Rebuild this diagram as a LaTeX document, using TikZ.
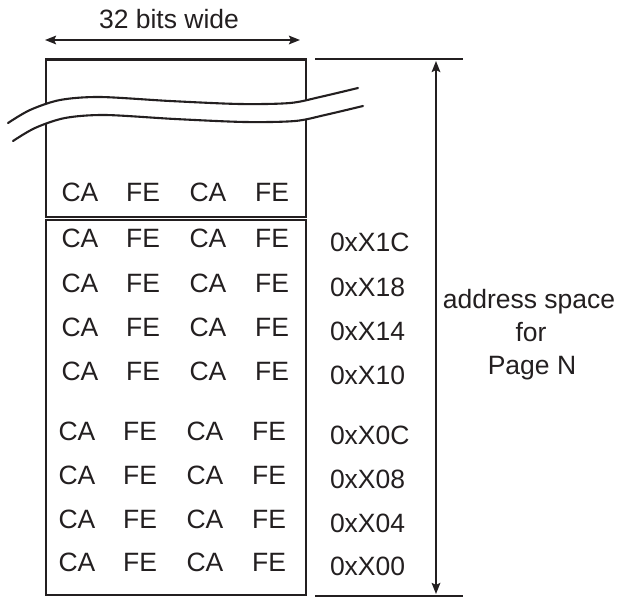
\documentclass[tikz,border=0pt]{standalone}
\usepackage{fontspec}
\setmainfont{Liberation Sans}
\usetikzlibrary{arrows.meta}
\definecolor{ink}{HTML}{231F20}
\begin{document}
\begin{tikzpicture}[x=1pt,y=-1pt,
  every node/.style={inner sep=0pt,outer sep=0pt,text=ink,font=\fontsize{26.5}{31}\selectfont},
  byte/.style={anchor=base},
  hex/.style={anchor=base west},
  frame/.style={draw=ink,line width=2.1pt},
  wave/.style={draw=ink,line width=2.1pt,line cap=round},
  dim/.style={draw=ink,line width=2.4pt,{Stealth[length=11pt,width=8.5pt,inset=2pt]}-{Stealth[length=11pt,width=8.5pt,inset=2pt]}},
  ext/.style={draw=ink,line width=2.2pt}]
\useasboundingbox (0,0) rectangle (618,597);
% coordinates
\coordinate (ul) at (46,59.5);
\coordinate (ur) at (306,217);
\coordinate (ll) at (46,220);
\coordinate (lr) at (306,595);
\coordinate (wl) at (45,40);
\coordinate (wr) at (300,40);
\coordinate (tl) at (315,59);
\coordinate (tr) at (463,59);
\coordinate (bl) at (315,596);
\coordinate (br) at (463,596);
\coordinate (at) at (436,61);
\coordinate (ab) at (436,594);
% width arrow
\node[byte] (wtxt) at (169,28) {32 bits wide};
\draw[dim] (wl) -- (wr);
% boxes
\draw[frame] (ul) rectangle (ur);
\draw[frame] (ll) rectangle (lr);
% break in the upper box
\fill[white] plot[smooth] coordinates {(8,123) (30,110) (60,100) (100,97) (170,101) (240,104) (290,103) (320,97) (358,88)}
  -- plot[smooth] coordinates {(363,106) (325,115) (295,121) (245,122) (175,119) (105,115) (65,118) (35,128) (13,141)} -- cycle;
\draw[wave] plot[smooth] coordinates {(8,123) (30,110) (60,100) (100,97) (170,101) (240,104) (290,103) (320,97) (358,88)};
\draw[wave] plot[smooth] coordinates {(13,141) (35,128) (65,118) (105,115) (175,119) (245,122) (295,121) (325,115) (363,106)};
% top row in upper box
\node[byte] (t1) at (80,201) {CA};
\node[byte] (t2) at (143,201) {FE};
\node[byte] (t3) at (208,201) {CA};
\node[byte] (t4) at (272,201) {FE};
% upper rows of lower box
\foreach \i/\b/\h in {1/247/1C,2/292/18,3/336/14,4/380/10}{
  \node[byte] (r\i a) at (80,\b) {CA};
  \node[byte] (r\i b) at (143,\b) {FE};
  \node[byte] (r\i c) at (208,\b) {CA};
  \node[byte] (r\i d) at (272,\b) {FE};
  \node[hex] (h\i) at (330,\b+4) {0xX\h};
}
\foreach \i/\b/\h in {5/440/0C,6/484/08,7/528/04,8/571/00}{
  \node[byte] (r\i a) at (77,\b) {CA};
  \node[byte] (r\i b) at (140,\b) {FE};
  \node[byte] (r\i c) at (205,\b) {CA};
  \node[byte] (r\i d) at (269,\b) {FE};
  \node[hex] (h\i) at (330,\b+4) {0xX\h};
}
% address space extent
\draw[ext] (tl) -- (tr);
\draw[ext] (bl) -- (br);
\draw[dim] (at) -- (ab);
\node[byte] (as1) at (529,308) {address space};
\node[byte] (as2) at (531,341) {for};
\node[byte] (as3) at (532,374) {Page N};
\end{tikzpicture}
\end{document}
